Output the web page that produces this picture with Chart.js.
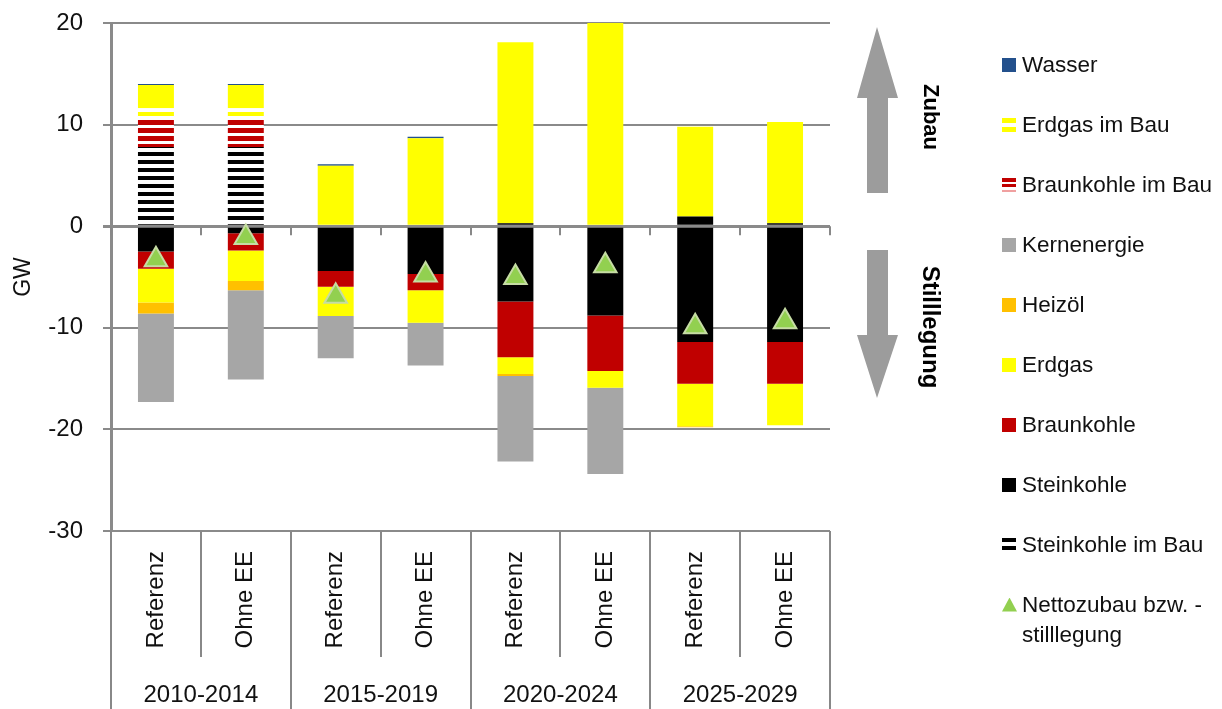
<!DOCTYPE html>
<html lang="de">
<head>
<meta charset="utf-8">
<title>Zubau und Stilllegung</title>
<script src="https://cdn.jsdelivr.net/npm/chart.js@4.4.1/dist/chart.umd.min.js"></script>
<style>
  body { margin: 0; background: #fff; }
  #wrap { position: relative; width: 1222px; height: 709px; overflow: hidden; }
  #chart { position: absolute; left: 0; top: 0; }
  #legend { position: absolute; left: 1002px; top: 0; font-family: 'Liberation Sans', Arial, sans-serif; font-size: 22.5px; color: #111; }
  .row { position: absolute; left: 0; line-height: 30px; white-space: nowrap; }
  .sw { position: absolute; left: 0; top: 8px; width: 14px; height: 14px; }
  .txt { position: absolute; left: 20px; top: 0; }
</style>
</head>
<body>
<div id="wrap">
  <canvas id="chart" width="1222" height="709"></canvas>
  <div id="legend"></div>
</div>
<script>
// Kategorien
const categories = ['Referenz', 'Ohne EE', 'Referenz', 'Ohne EE', 'Referenz', 'Ohne EE', 'Referenz', 'Ohne EE'];
const periods = ['2010-2014', '2015-2019', '2020-2024', '2025-2029'];

// Zubau (GW)
const steinkohleImBau = [7.8, 7.8, 0, 0, 0, 0, 0, 0];
const steinkohleZubau = [0, 0, 0, 0, 0.3, 0, 0.95, 0.3];
const braunkohleImBau = [2.8, 2.8, 0, 0, 0, 0, 0, 0];
const erdgasImBau = [1.0, 1.0, 0, 0, 0, 0, 0, 0];
const erdgasZubau = [2.3, 2.3, 5.95, 8.65, 17.8, 20.5, 8.85, 9.95];
const wasser = [0.1, 0.1, 0.15, 0.15, 0, 0, 0, 0];

// Stilllegung (GW)
const steinkohleStill = [-2.5, -0.7, -4.4, -4.7, -7.4, -8.8, -11.4, -11.4];
const braunkohleStill = [-1.7, -1.7, -1.55, -1.6, -5.5, -5.45, -4.1, -4.1];
const erdgasStill = [-3.3, -3.0, -2.9, -3.2, -1.65, -1.65, -4.2, -4.1];
const heizoelStill = [-1.1, -0.9, 0, 0, -0.2, 0, -0.1, 0];
const kernenergieStill = [-8.7, -8.8, -4.15, -4.2, -8.4, -8.5, 0, 0];

// Netto
const nettozubau = [-3.3, -1.1, -6.9, -4.8, -5.05, -3.9, -9.9, -9.4];

const yMin = -30, yMax = 20, yStep = 10;

const FONT = "'Liberation Sans', Arial, sans-serif";
Chart.defaults.font.family = FONT;
Chart.defaults.color = '#111';

const canvas = document.getElementById('chart');
const ctx = canvas.getContext('2d');

function stripes(color, band, gap) {
  const c = document.createElement('canvas');
  c.width = 8; c.height = band + gap;
  const g = c.getContext('2d');
  g.fillStyle = '#fff'; g.fillRect(0, 0, 8, band + gap);
  g.fillStyle = color; g.fillRect(0, 0, 8, band);
  return ctx.createPattern(c, 'repeat');
}

const C = {
  wasser: '#23508c', erdgas: '#ffff00', braunkohle: '#c00000', steinkohle: '#000000',
  kern: '#a6a6a6', heizoel: '#ffc000', netto: '#92d050'
};

const bar = (label, data, color) => ({ type: 'bar', label, data, backgroundColor: color, borderWidth: 0, stack: 'gw' });

const decorations = {
  id: 'decorations',
  afterDraw(chart) {
    const { ctx, scales: { x, y, x2 } } = chart;
    const step = x.getPixelForValue(1) - x.getPixelForValue(0);
    const zero = y.getPixelForValue(0);
    ctx.save();
    ctx.strokeStyle = '#888';
    ctx.lineWidth = 2;
    for (let i = 0; i <= categories.length; i++) {
      const bx = Math.round(x.getPixelForValue(0) - step / 2 + i * step);
      ctx.beginPath(); ctx.moveTo(bx, zero); ctx.lineTo(bx, zero + 9); ctx.stroke();
      ctx.beginPath(); ctx.moveTo(bx, y.bottom); ctx.lineTo(bx, i % 2 === 0 ? x2.bottom : x.bottom); ctx.stroke();
    }

    // Pfeile rechts
    ctx.fillStyle = '#9c9c9c';
    ctx.beginPath();
    ctx.moveTo(877, 27); ctx.lineTo(898, 98); ctx.lineTo(888, 98); ctx.lineTo(888, 193);
    ctx.lineTo(867, 193); ctx.lineTo(867, 98); ctx.lineTo(857, 98); ctx.closePath(); ctx.fill();
    ctx.beginPath();
    ctx.moveTo(867, 250); ctx.lineTo(888, 250); ctx.lineTo(888, 335); ctx.lineTo(898, 335);
    ctx.lineTo(877, 398); ctx.lineTo(857, 335); ctx.lineTo(867, 335); ctx.closePath(); ctx.fill();

    ctx.fillStyle = '#000';
    ctx.textAlign = 'center';
    ctx.textBaseline = 'middle';
    [['Zubau', 117, 22], ['Stilllegung', 327, 24]].forEach(([t, cy, size]) => {
      ctx.save();
      ctx.translate(930, cy);
      ctx.rotate(Math.PI / 2);
      ctx.font = 'bold ' + size + 'px ' + FONT;
      ctx.fillText(t, 0, 0);
      ctx.restore();
    });
    ctx.restore();
  }
};

new Chart(ctx, {
  data: {
    labels: categories,
    datasets: [
      {
        type: 'line', label: 'Nettozubau bzw. -stilllegung', data: nettozubau, stack: 'net',
        showLine: false, pointStyle: 'triangle', pointRadius: 13,
        pointBackgroundColor: C.netto, pointBorderColor: '#c6dca4', pointBorderWidth: 2
      },
      bar('Steinkohle im Bau', steinkohleImBau, stripes('#000', 4, 4)),
      bar('Steinkohle', steinkohleZubau, C.steinkohle),
      bar('Steinkohle', steinkohleStill, C.steinkohle),
      bar('Braunkohle', braunkohleStill, C.braunkohle),
      bar('Erdgas', erdgasStill, C.erdgas),
      bar('Heizöl', heizoelStill, C.heizoel),
      bar('Kernenergie', kernenergieStill, C.kern),
      bar('Braunkohle im Bau', braunkohleImBau, stripes(C.braunkohle, 5, 3)),
      bar('Erdgas im Bau', erdgasImBau, stripes(C.erdgas, 4, 4)),
      bar('Erdgas', erdgasZubau, C.erdgas),
      bar('Wasser', wasser, C.wasser)
    ]
  },
  options: {
    responsive: false,
    animation: false,
    events: [],
    layout: { padding: { top: 23, right: 392, left: 0, bottom: 0 } },
    datasets: { bar: { categoryPercentage: 1, barPercentage: 0.4 } },
    plugins: { legend: { display: false }, tooltip: { enabled: false } },
    scales: {
      x: {
        stacked: true, offset: true, weight: 0,
        grid: { display: false }, border: { display: false },
        ticks: { minRotation: 90, maxRotation: 90, autoSkip: false, padding: 12, font: { size: 24 }, color: '#111' },
        afterFit: s => { s.height = 126; }
      },
      x2: {
        type: 'category', labels: periods, position: 'bottom', offset: true, weight: 1,
        grid: { display: false }, border: { display: false },
        ticks: { padding: 16, font: { size: 24 }, color: '#111' },
        afterFit: s => { s.height = 52; }
      },
      y: {
        stacked: true, min: yMin, max: yMax,
        ticks: { stepSize: yStep, padding: 20, font: { size: 24 }, color: '#111' },
        grid: { color: '#8a8a8a', lineWidth: c => (c.tick && c.tick.value === 0 ? 3 : 2), tickLength: 8 },
        border: { display: true, color: '#8a8a8a', width: 3 },
        title: { display: true, text: 'GW', font: { size: 23 }, color: '#111', padding: { top: 10, bottom: 0 } },
        afterFit: s => { s.width = 111; s.paddingTop = 12; s.paddingBottom = 12; }
      }
    }
  },
  plugins: [decorations]
});

// Legende
const legendItems = [
  ['Wasser', 'background:' + C.wasser],
  ['Erdgas im Bau', 'background:repeating-linear-gradient(to bottom,#ffff00 0 5px,#fff 5px 9px)'],
  ['Braunkohle im Bau', 'background:repeating-linear-gradient(to bottom,#c00000 0 4px,#fff 4px 6px,#c00000 6px 9px,#fff 9px 12px,#f0a0a0 12px 14px)'],
  ['Kernenergie', 'background:' + C.kern],
  ['Heizöl', 'background:' + C.heizoel],
  ['Erdgas', 'background:' + C.erdgas],
  ['Braunkohle', 'background:' + C.braunkohle],
  ['Steinkohle', 'background:' + C.steinkohle],
  ['Steinkohle im Bau', 'background:repeating-linear-gradient(to bottom,#000 0 4px,#fff 4px 8px,#000 8px 12px,#fff 12px 14px)'],
  ['Nettozubau bzw. -<br>stilllegung', 'background:' + C.netto + ';width:15px;clip-path:polygon(50% 0,100% 100%,0 100%)']
];
const legend = document.getElementById('legend');
legendItems.forEach(([text, style], i) => {
  const row = document.createElement('div');
  row.className = 'row';
  row.style.top = (49.5 + 60 * i) + 'px';
  row.innerHTML = '<span class="sw" style="' + style + '"></span><span class="txt">' + text + '</span>';
  legend.appendChild(row);
});
</script>
</body>
</html>
